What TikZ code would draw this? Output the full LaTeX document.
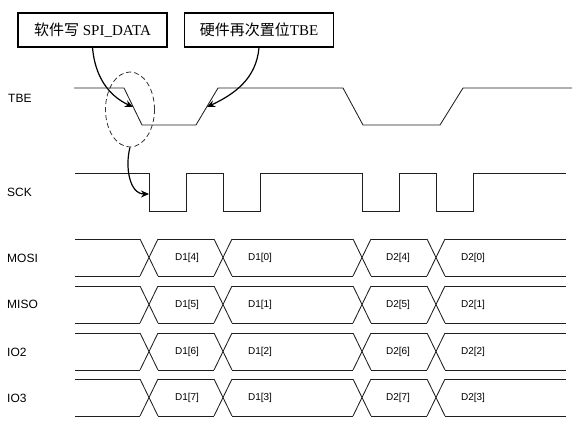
\documentclass[tikz,border=0pt]{standalone}
\usepackage{fontspec}
\setmainfont{Liberation Serif}
\setsansfont{Liberation Sans}
\newfontfamily\cjk{Noto Sans CJK SC}
\usetikzlibrary{arrows.meta,shapes.geometric}
\begin{document}
\begin{tikzpicture}[x=1pt,y=-1pt,
  sig/.style={draw=black!88,line width=0.85pt},
  callout/.style={draw=black,line width=1.3pt,minimum width=149pt,minimum height=34pt,inner sep=0pt,font=\fontsize{15}{15}\selectfont},
  pointer/.style={draw=black,line width=1.2pt,-{Stealth[length=8pt,width=7pt]}},
  signame/.style={anchor=west,inner sep=0pt,font=\sffamily\fontsize{12}{12}\selectfont},
  datalbl/.style={inner sep=0pt,font=\sffamily\fontsize{10}{10}\selectfont}]
\useasboundingbox (0,0) rectangle (573,428);

% callout boxes
\node[callout] (sw) at (92.5,30) {{\cjk 软件写} SPI\_DATA};
\node[callout] (hw) at (259,30) {{\cjk 硬件再次置位}TBE};

% signal names
\node[signame] (nTBE) at (8,98) {TBE};
\node[signame] (nSCK) at (7,192) {SCK};
\node[signame] (nMOSI) at (7,258) {MOSI};
\node[signame] (nMISO) at (7,304) {MISO};
\node[signame] (nIO2) at (7,352) {IO2};
\node[signame] (nIO3) at (7,398) {IO3};

% TBE
\draw[sig] (74,88)--(124,88)--(142,125)--(196,125)--(218,88)--(343,88)--(363,125)--(440,125)--(463,88)--(572,88);
% SCK
\draw[sig] (75,173)--(149,173)--(149,211)--(186,211)--(186,173)--(223,173)--(223,211)--(260,211)--(260,173)
  --(362,173)--(362,211)--(399,211)--(399,173)--(436,173)--(436,211)--(473,211)--(473,173)--(566,173);

% data rows
\foreach \yt/\a/\b/\c/\d in {239/4/0/4/0, 286/5/1/5/1, 333/6/2/6/2, 379/7/3/7/3}{
  \pgfmathsetmacro{\yb}{\yt+37}
  \pgfmathsetmacro{\ym}{\yt+18.5}
  \foreach \xa/\xb in {75/140,158/214,232/353,371/427,445/566}{
    \draw[sig] (\xa,\yt)--(\xb,\yt);
    \draw[sig] (\xa,\yb)--(\xb,\yb);
  }
  \foreach \xc in {149,223,362,436}{
    \draw[sig] (\xc-9,\yt)--(\xc+9,\yb);
    \draw[sig] (\xc-9,\yb)--(\xc+9,\yt);
  }
  \node[datalbl] at (187,\ym) {D1[\a]};
  \node[datalbl] at (260,\ym) {D1[\b]};
  \node[datalbl] at (398,\ym) {D2[\c]};
  \node[datalbl] at (473,\ym) {D2[\d]};
}

% dashed ellipse
\node[ellipse,draw=black!80,line width=0.8pt,dash pattern=on 5pt off 3pt,minimum width=49pt,minimum height=75pt,inner sep=0pt] (ell) at (130,109.5) {};

% pointer targets
\coordinate (fall) at (133,107);
\coordinate (rise) at (207,107);
\coordinate (sckfall) at (149,194);

\draw[pointer] (sw.south) to[out=-85,in=155] (fall);
\draw[pointer] (hw.south) to[out=-95,in=25] (rise);
\draw[pointer] (ell.south) to[out=-105,in=180] (sckfall);
\end{tikzpicture}
\end{document}
